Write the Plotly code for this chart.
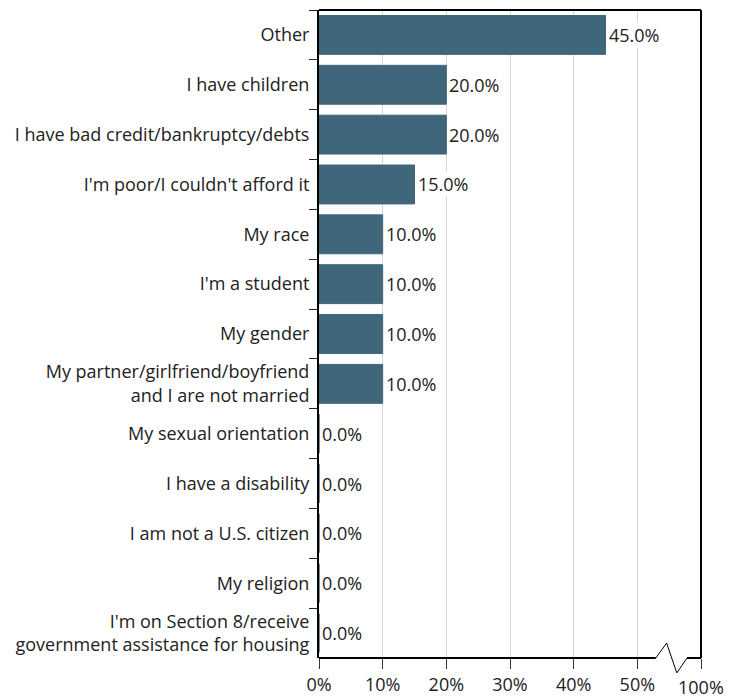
import plotly.graph_objects as go

categories = [
    "Other",
    "I have children",
    "I have bad credit/bankruptcy/debts",
    "I'm poor/I couldn't afford it",
    "My race",
    "I'm a student",
    "My gender",
    "My partner/girlfriend/boyfriend<br>and I are not married",
    "My sexual orientation",
    "I have a disability",
    "I am not a U.S. citizen",
    "My religion",
    "I'm on Section 8/receive<br>government assistance for housing",
]
values = [45.0, 20.0, 20.0, 15.0, 10.0, 10.0, 10.0, 10.0, 0.0, 0.0, 0.0, 0.0, 0.0]
tick_vals = [0, 10, 20, 30, 40, 50, 60]
tick_text = ["0%", "10%", "20%", "30%", "40%", "50%", ""]
break_label = "100%"

BAR = "#40667c"
FONT = "Open Sans"
FS = 18

fig = go.Figure()
fig.add_trace(go.Bar(
    y=categories, x=values, orientation="h",
    marker=dict(color=BAR, line=dict(color=BAR, width=1)),
    hoverinfo="skip",
))

for c, v in zip(categories, values):
    fig.add_annotation(
        x=v, y=c, xref="x", yref="y", text=f"{v:.1f}%",
        showarrow=False, xanchor="left", xshift=2,
        bgcolor="white", borderpad=0,
        font=dict(family=FONT, size=FS, color="#222"),
    )

fig.add_annotation(
    x=tick_vals[-1], y=0, xref="x", yref="paper", text=break_label,
    showarrow=False, xanchor="center", yanchor="middle", yshift=-29,
    font=dict(family=FONT, size=FS, color="#222"),
)

# frame: top and right borders, bottom axis with break
line = dict(color="black", width=2)
fig.add_shape(type="line", xref="paper", yref="paper", x0=0, x1=1, y0=1, y1=1, line=line)
fig.add_shape(type="line", xref="paper", yref="paper", x0=1, x1=1, y0=0, y1=1, line=line)
fig.add_shape(type="line", xref="x", yref="paper", x0=0, x1=52.9, y0=0, y1=0, line=line)
fig.add_shape(type="line", xref="x", yref="paper", x0=57.8, x1=60, y0=0, y1=0, line=line)
fig.add_shape(type="path", xref="x", yref="paper",
              path="M 52.9,0 L 54.6,0.023 L 56.2,-0.023 L 57.8,0",
              line=dict(color="black", width=1))

fig.update_layout(
    width=728, height=690,
    margin=dict(l=311, r=35, t=2, b=38),
    plot_bgcolor="white", paper_bgcolor="white",
    bargap=0.22, showlegend=False,
    font=dict(family=FONT, size=FS, color="#222"),
)
fig.update_xaxes(
    range=[0, 60], tickvals=tick_vals, ticktext=tick_text,
    showgrid=True, gridcolor="#d6d6d6", gridwidth=1,
    zeroline=False, showline=False,
    ticks="outside", ticklen=10, tickcolor="#333", tickwidth=1,
    tickfont=dict(family=FONT, size=FS, color="#222"),
)
fig.update_yaxes(
    type="category", categoryorder="array", categoryarray=categories,
    autorange="reversed",
    showline=True, linecolor="black", linewidth=2,
    ticks="outside", tickson="boundaries", ticklen=8, tickcolor="#222",
    ticklabelstandoff=4,
    showgrid=False,
    tickfont=dict(family=FONT, size=FS, color="#222"),
)

fig.write_html("out.html")
